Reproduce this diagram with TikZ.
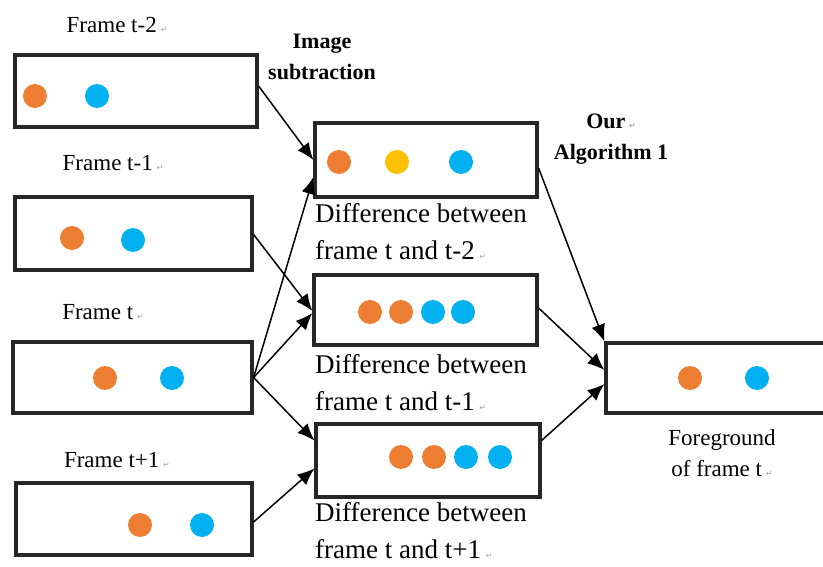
\documentclass[tikz,border=0pt]{standalone}
\usepackage{fontspec}
\setmainfont{Liberation Serif}
\newfontfamily\markfont{DejaVu Sans}
\usetikzlibrary{arrows.meta}
\definecolor{dotorange}{HTML}{ED7D31}
\definecolor{dotblue}{HTML}{00B0F0}
\definecolor{dotyellow}{HTML}{FFC000}
\newcommand{\pmark}{\,{\color{black!35}\markfont\fontsize{8}{8}\selectfont ↵}}
\begin{document}
\begin{tikzpicture}[x=1pt,y=-1pt,
  framebox/.style={draw=black!85,line width=3.2pt,minimum width=#1,inner sep=0pt},
  framebox/.default=238pt,
  dot/.style={circle,inner sep=0pt,minimum width=23pt,minimum height=24pt},
  od/.style={dot,fill=dotorange},
  bd/.style={dot,fill=dotblue},
  yd/.style={dot,fill=dotyellow},
  arr/.style={line width=1.5pt,-{Latex[length=17pt,width=14pt]}},
  lbl/.style={font=\fontsize{23}{30}\selectfont,inner sep=0pt},
  bl/.style={font=\bfseries\fontsize{22}{31}\selectfont,inner sep=0pt,align=center},
  dl/.style={font=\fontsize{27}{37}\selectfont,inner sep=0pt,align=left,anchor=north west}
]
\useasboundingbox (0,0) rectangle (823,567);
\fill[white] (0,0) rectangle (823,567);

% boxes
\node[framebox=242pt,minimum height=72pt] (f2) at (136,91) {};
\node[framebox=237pt,minimum height=73pt] (f1) at (133.5,233.5) {};
\node[framebox=239pt,minimum height=71pt] (f0) at (132.5,377.5) {};
\node[framebox=236pt,minimum height=72pt] (fp) at (134,519) {};
\node[framebox=222pt,minimum height=74pt] (d1) at (426,160) {};
\node[framebox=223pt,minimum height=70pt] (d2) at (425.5,310) {};
\node[framebox=224pt,minimum height=73pt] (d3) at (428,460.5) {};
\node[framebox=224pt,minimum height=70pt] (fg) at (718,378) {};

% dots
\node[od] (a1) at (35,96) {};   \node[bd] (a2) at (97,96) {};
\node[od] (b1) at (72,238) {};  \node[bd] (b2) at (133,240) {};
\node[od] (c1) at (105,378) {}; \node[bd] (c2) at (172,378) {};
\node[od] (e1) at (140,525) {}; \node[bd] (e2) at (202,525) {};
\node[od] (g1) at (339,162) {}; \node[yd] (g2) at (397,162) {}; \node[bd] (g3) at (461,162) {};
\node[od] (h1) at (370,312) {}; \node[od] (h2) at (401,312) {}; \node[bd] (h3) at (433,312) {}; \node[bd] (h4) at (463,312) {};
\node[od] (k1) at (401,457) {}; \node[od] (k2) at (434,457) {}; \node[bd] (k3) at (466,457) {}; \node[bd] (k4) at (500,457) {};
\node[od] (m1) at (690,378) {}; \node[bd] (m2) at (757,378) {};

% labels
\node[lbl] (lf2) at (117,25) {Frame t-2\pmark};
\node[lbl] (lf1) at (113,163) {Frame t-1\pmark};
\node[lbl] (lf0) at (103,312) {Frame t\pmark};
\node[lbl] (lfp) at (117,460) {Frame t+1\pmark};
\node[bl] (lis) at (322,57) {Image\\subtraction};
\node[bl] (lalg) at (611,139) {Our\pmark\\Algorithm 1};
\node[dl] (ld1) at (315,203) {Difference between\\frame t and t-2\pmark};
\node[dl] (ld2) at (315,354) {Difference between\\frame t and t-1\pmark};
\node[dl] (ld3) at (315,502) {Difference between\\frame t and t+1\pmark};
\node[lbl,align=center,font=\fontsize{23}{31}\selectfont] (lfg) at (722,453) {Foreground\\of frame t\pmark};

% connectors
\draw[arr] ([yshift=5pt]f2.east) -- (d1.west);
\draw[arr] (f0.east) -- ([yshift=-17pt]d1.west);
\draw[arr] ([yshift=-1pt]f1.east) -- ([yshift=-1pt]d2.west);
\draw[arr] (f0.east) -- ([yshift=-3pt]d2.west);
\draw[arr] (f0.east) -- ([yshift=20pt]d3.west);
\draw[arr] ([yshift=-3pt]fp.east) -- ([yshift=-8pt]d3.west);
\draw[arr] ([yshift=-8pt]d1.east) -- (fg.north west);
\draw[arr] ([yshift=2pt]d2.east) -- ([yshift=8pt]fg.west);
\draw[arr] ([yshift=20pt]d3.east) -- ([yshift=-6pt]fg.west);
\end{tikzpicture}
\end{document}
